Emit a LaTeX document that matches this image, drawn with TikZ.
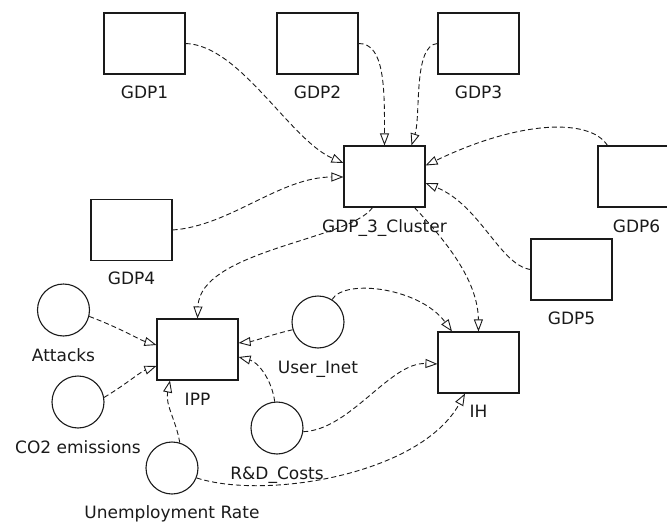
\documentclass[tikz,border=0pt]{standalone}
\usepackage{fontspec}
\setmainfont{DejaVu Sans}
\usetikzlibrary{arrows.meta}
\definecolor{ink}{HTML}{1A1A1A}
\begin{document}
\begin{tikzpicture}[x=1pt,y=-1pt,
  font=\fontsize{17pt}{20pt}\selectfont,
  box/.style={draw=ink,line width=1.1pt,fill=white,minimum width=81pt,minimum height=61pt,inner sep=0pt},
  circ/.style={draw=ink,line width=1.1pt,fill=white,circle,minimum size=52pt,inner sep=0pt},
  lbl/.style={anchor=base,text=ink,inner sep=0pt},
  conn/.style={draw=ink,line width=0.9pt,dash pattern=on 5pt off 3pt,
    -{Triangle[open,length=12pt,width=9pt,line width=0.9pt]}}]
\useasboundingbox (0,0) rectangle (667,522);
% boxes
\node[box] (g1) at (144.5,43.5) {};
\node[box] (g2) at (317.5,43.5) {};
\node[box] (g3) at (478.5,43.5) {};
\node[box] (cl) at (384.5,176.5) {};
\node[box] (g6) at (638.5,176.5) {};
\node[box] (g5) at (571.5,269.5) {};
\node[box] (g4) at (131.5,230) {};
\node[box] (ipp) at (197.5,349.5) {};
\node[box] (ih) at (478.5,362.5) {};
% circles
\node[circ] (att) at (63.5,310) {};
\node[circ] (co2) at (78,402) {};
\node[circ] (une) at (172,468) {};
\node[circ] (rd) at (277,428) {};
\node[circ] (ui) at (318,322) {};
% labels
\node[lbl] (g1l) at ([yshift=-24pt]g1.south) {GDP1};
\node[lbl] (g2l) at ([yshift=-24pt]g2.south) {GDP2};
\node[lbl] (g3l) at ([yshift=-24pt]g3.south) {GDP3};
\node[lbl] (cll) at ([yshift=-25pt]cl.south) {GDP\_3\_Cluster};
\node[lbl] (g6l) at ([xshift=-2pt,yshift=-25pt]g6.south) {GDP6};
\node[lbl] (g5l) at ([yshift=-24pt]g5.south) {GDP5};
\node[lbl] (g4l) at ([yshift=-23pt]g4.south) {GDP4};
\node[lbl] (ippl) at ([yshift=-25pt]ipp.south) {IPP};
\node[lbl] (ihl) at ([yshift=-24pt]ih.south) {IH};
\node[lbl] (attl) at ([yshift=-25pt]att.south) {Attacks};
\node[lbl] (co2l) at ([yshift=-25pt]co2.south) {CO2 emissions};
\node[lbl] (unel) at ([yshift=-24pt]une.south) {Unemployment Rate};
\node[lbl] (rdl) at ([yshift=-25pt]rd.south) {R\&D\_Costs};
\node[lbl] (uil) at ([yshift=-25pt]ui.south) {User\_Inet};
% connectors
\path[conn] (g1.east) .. controls (240,45) and (290,140) .. ([yshift=13.5pt]cl.west);
\path[conn] (g2.east) .. controls (385,43) and (384.5,90) .. (cl.north);
\path[conn] (g3.west) .. controls (413,45) and (421,115) .. ([xshift=27pt]cl.north);
\path[conn] ([xshift=10pt]g6.north west) .. controls (590,118) and (520,120) .. ([yshift=11pt]cl.east);
\path[conn] (g5.west) .. controls (500,265) and (480,205) .. ([yshift=-6.5pt]cl.east);
\path[conn] (g4.east) .. controls (230,226) and (280,177) .. ([yshift=-0.5pt]cl.west);
\path[conn] ([xshift=-12pt]cl.south) .. controls (350,240) and (200,250) .. (ipp.north);
\path[conn] ([xshift=30pt]cl.south) .. controls (445,240) and (478,280) .. (ih.north);
\path[conn] (att.-14) .. controls (120,328) and (140,340) .. ([yshift=4.5pt]ipp.west);
\path[conn] (co2.10) .. controls (125,385) and (140,372) .. ([yshift=-16.5pt]ipp.west);
\path[conn] (une.73) .. controls (176,420) and (165,405) .. ([xshift=-27.5pt]ipp.south);
\path[conn] (une.-22) .. controls (265,500) and (420,475) .. ([xshift=-13.5pt]ih.south);
\path[conn] (rd.95) .. controls (272,380) and (258,362) .. ([yshift=-7.5pt]ipp.east);
\path[conn] (rd.-8) .. controls (350,430) and (390,362) .. ([yshift=-1.5pt]ih.west);
\path[conn] (ui.197) .. controls (270,335) and (255,341) .. ([yshift=6.5pt]ipp.east);
\path[conn] (ui.58) .. controls (345,278) and (420,288) .. ([xshift=-26.5pt]ih.north);
\end{tikzpicture}
\end{document}
